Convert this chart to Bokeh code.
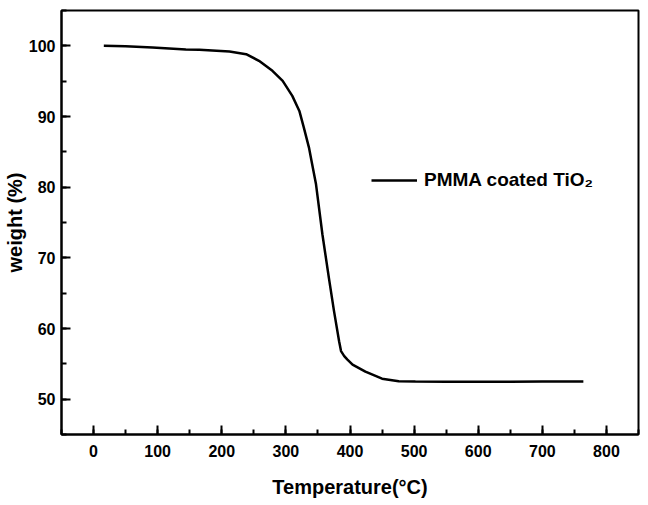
from bokeh.plotting import figure
from bokeh.models import Range1d, Legend, LegendItem, SingleIntervalTicker
from bokeh.embed import file_html
from bokeh.resources import INLINE

# Data (TGA curve)
temperature = [16, 50, 92, 144, 165, 212, 238, 258, 279, 295, 310, 321, 328, 336, 340,
               347, 357, 367, 375, 383, 386, 391, 396, 404, 424, 450, 476, 502,
               550, 600, 650, 700, 764]
weight = [100.0, 99.95, 99.76, 99.48, 99.45, 99.19, 98.82, 97.88, 96.46, 95.04, 92.92,
          90.79, 88.43, 85.6, 83.7, 80.4, 73.3, 67.2, 62.5, 58.2, 56.8, 56.1, 55.6,
          54.9, 53.9, 52.9, 52.55, 52.5, 52.45, 52.45, 52.45, 52.5, 52.5]
series_label = "PMMA coated TiO\u2082"
x_ticks = [0, 100, 200, 300, 400, 500, 600, 700, 800]
y_ticks = [50, 60, 70, 80, 90, 100]

FONT = "Liberation Sans"

p = figure(frame_width=577, frame_height=424, output_backend="svg", toolbar_location=None,
           x_range=Range1d(-50, 850), y_range=Range1d(45, 105),
           min_border_left=0, min_border_right=2, min_border_top=10, min_border_bottom=0)

r = p.line(temperature, weight, line_color="black", line_width=2.5)

p.grid.visible = False
p.background_fill_color = "white"
p.border_fill_color = "white"
p.outline_line_color = "black"
p.outline_line_width = 2

for ax in (p.xaxis[0], p.yaxis[0]):
    ax.axis_line_color = "black"
    ax.axis_line_width = 2
    ax.major_tick_in = 9
    ax.major_tick_out = 0
    ax.minor_tick_in = 5
    ax.minor_tick_out = 0
    ax.major_tick_line_width = 2
    ax.minor_tick_line_width = 2
    ax.major_tick_line_color = "black"
    ax.minor_tick_line_color = "black"
    ax.major_label_text_font = FONT
    ax.major_label_text_font_style = "bold"
    ax.major_label_text_font_size = "16px"
    ax.major_label_text_color = "black"
    ax.axis_label_text_font = FONT
    ax.axis_label_text_font_style = "bold"
    ax.axis_label_text_font_size = "20px"
    ax.axis_label_text_color = "black"

p.xaxis[0].ticker = SingleIntervalTicker(interval=100, num_minor_ticks=2)
p.yaxis[0].ticker = SingleIntervalTicker(interval=10, num_minor_ticks=2)
p.xaxis[0].major_label_standoff = 10
p.yaxis[0].major_label_standoff = 6
p.xaxis[0].axis_label = "Temperature(\u00b0C)"
p.yaxis[0].axis_label = "weight (%)"
p.xaxis[0].axis_label_standoff = 16
p.yaxis[0].axis_label_standoff = 0

legend = Legend(items=[LegendItem(label=series_label, renderers=[r])],
                location=(310, 243), glyph_width=46, glyph_height=22,
                label_standoff=7, padding=0, margin=0, spacing=0,
                border_line_color=None, background_fill_alpha=0,
                label_text_font=FONT, label_text_font_style="bold",
                label_text_font_size="19px", label_text_color="black")
p.add_layout(legend)

open("out.html", "w").write(file_html(p, INLINE))
